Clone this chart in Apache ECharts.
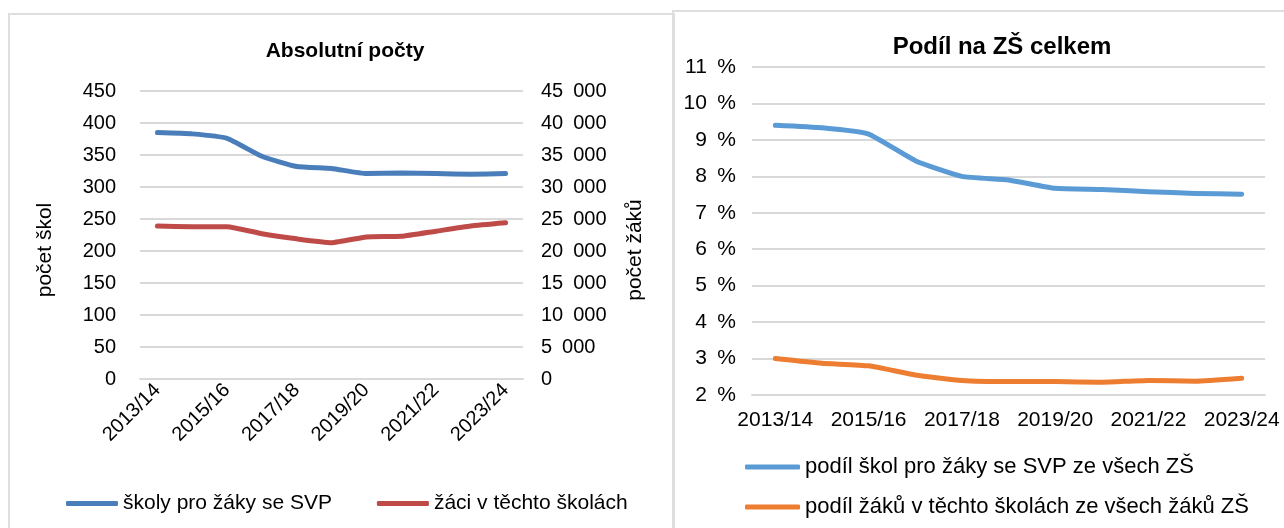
<!DOCTYPE html>
<html>
<head>
<meta charset="utf-8">
<script src="https://cdn.jsdelivr.net/npm/echarts@6/dist/echarts.min.js"></script>
<style>
html,body{margin:0;padding:0;background:#fff;}
#wrap{position:relative;width:1284px;height:528px;overflow:hidden;}
.panel{position:absolute;border:2px solid #dedede;box-sizing:border-box;}
#chart{position:absolute;left:0;top:0;width:1284px;height:528px;}
</style>
</head>
<body>
<div id="wrap">
  <div class="panel" style="left:8px;top:13px;width:667px;height:540px;"></div>
  <div class="panel" style="left:672px;top:10px;width:640px;height:540px;"></div>
  <div id="chart"></div>
</div>
<script>
var years = ['2013/14','2014/15','2015/16','2016/17','2017/18','2018/19','2019/20','2020/21','2021/22','2022/23','2023/24'];
var skoly = [385, 383, 376, 348, 332, 329, 321, 322, 321, 320, 321];
var zaci = [23900, 23800, 23800, 22700, 21900, 21300, 22200, 22300, 23100, 23900, 24400];
var podilSkol = [9.40, 9.33, 9.16, 8.43, 8.00, 7.90, 7.67, 7.64, 7.58, 7.53, 7.51];
var podilZaku = [3.00, 2.87, 2.80, 2.55, 2.40, 2.37, 2.37, 2.35, 2.40, 2.38, 2.46];

var FONT = '"Liberation Sans", Arial, sans-serif';
var GRID = '#d9d9d9';
var SP = '\u2002';

function spaced(v){
  return String(v).replace(/\B(?=(\d{3})+(?!\d))/g, SP);
}

init();

function txt(size){
  return {color:'#000', fontSize:size, fontFamily:FONT};
}

function init(){
  var myChart = echarts.init(document.getElementById('chart'));
  var option = {
    animation:false,
    textStyle:{fontFamily:FONT},
    title:[
      {text:'Absolutní počty', left:340, top:36, textAlign:'center',
       textStyle:{fontSize:21, fontWeight:'bold', color:'#000', fontFamily:FONT}},
      {text:'Podíl na ZŠ celkem', left:997, top:30, textAlign:'center',
       textStyle:{fontSize:24, fontWeight:'bold', color:'#000', fontFamily:FONT}}
    ],
    legend:[
      {data:['školy pro žáky se SVP','žáci v těchto školách'], left:61, top:488,
       icon:'roundRect', itemWidth:52, itemHeight:5, itemGap:45,
       textStyle:txt(21)},
      {data:['podíl škol pro žáky se SVP ze všech ZŠ','podíl žáků v těchto školách ze všech žáků ZŠ'],
       left:740, top:451, orient:'vertical',
       icon:'roundRect', itemWidth:55, itemHeight:5, itemGap:18,
       textStyle:txt(22)}
    ],
    grid:[
      {left:140, top:91, width:383, height:288},
      {left:752, top:67, width:513, height:328}
    ],
    xAxis:[
      {type:'category', gridIndex:0, data:years, boundaryGap:true,
       axisLine:{lineStyle:{color:GRID, width:2}}, axisTick:{show:false},
       axisLabel:Object.assign({interval:1, rotate:45, margin:8}, txt(20))},
      {type:'category', gridIndex:1, data:years, boundaryGap:true,
       axisLine:{lineStyle:{color:GRID, width:2}}, axisTick:{show:false},
       axisLabel:Object.assign({interval:1, margin:15}, txt(21))}
    ],
    yAxis:[
      {type:'value', gridIndex:0, min:0, max:450, interval:50,
       name:'počet škol', nameLocation:'middle', nameGap:84, nameRotate:90,
       nameTextStyle:Object.assign({padding:[0, 30, 0, 0]}, txt(21)),
       axisLine:{show:false}, axisTick:{show:false},
       axisLabel:Object.assign({margin:24}, txt(20)),
       splitLine:{lineStyle:{color:GRID, width:2}}},
      {type:'value', gridIndex:0, position:'right', min:0, max:45000, interval:5000,
       name:'počet žáků', nameLocation:'middle', nameGap:102, nameRotate:90,
       nameTextStyle:Object.assign({padding:[0, 30, 0, 0]}, txt(21)),
       axisLine:{show:false}, axisTick:{show:false},
       axisLabel:Object.assign({margin:18, formatter:spaced}, txt(20)),
       splitLine:{show:false}},
      {type:'value', gridIndex:1, min:2, max:11, interval:1,
       axisLine:{show:false}, axisTick:{show:false},
       axisLabel:Object.assign({margin:16, formatter:'{value}' + SP + '%'}, txt(21)),
       splitLine:{lineStyle:{color:GRID, width:2}}}
    ],
    series:[
      {name:'školy pro žáky se SVP', type:'line', xAxisIndex:0, yAxisIndex:0, data:skoly,
       symbol:'none', smooth:0.15, color:'#4A7EBB', lineStyle:{width:5, cap:'round', join:'round'}},
      {name:'žáci v těchto školách', type:'line', xAxisIndex:0, yAxisIndex:1, data:zaci,
       symbol:'none', smooth:0.15, color:'#BE4B48', lineStyle:{width:5, cap:'round', join:'round'}},
      {name:'podíl škol pro žáky se SVP ze všech ZŠ', type:'line', xAxisIndex:1, yAxisIndex:2, data:podilSkol,
       symbol:'none', smooth:0.15, color:'#5B9BD5', lineStyle:{width:5, cap:'round', join:'round'}},
      {name:'podíl žáků v těchto školách ze všech žáků ZŠ', type:'line', xAxisIndex:1, yAxisIndex:2, data:podilZaku,
       symbol:'none', smooth:0.15, color:'#ED7D31', lineStyle:{width:5, cap:'round', join:'round'}}
    ]
  };
  myChart.setOption(option);
}
</script>
</body>
</html>
